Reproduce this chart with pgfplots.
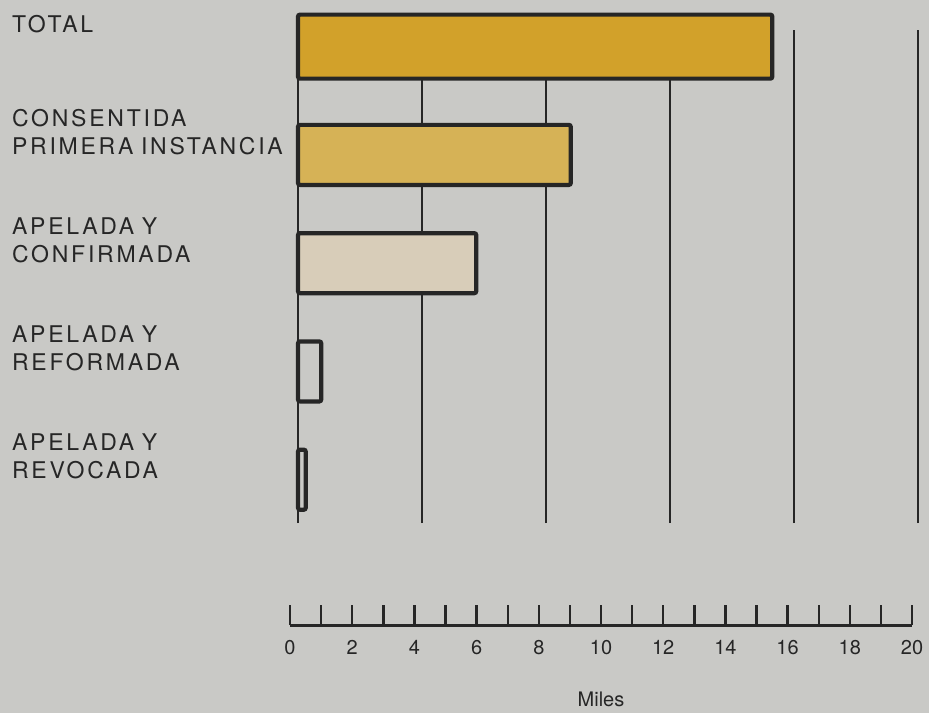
\documentclass[border=0pt]{standalone}
\usepackage{fontspec}
\setmainfont{TeX Gyre Heros}
\newfontfamily\spaced[LetterSpace=12]{TeX Gyre Heros}
\usepackage{pgfplots}
\pgfplotsset{compat=1.18}
\definecolor{paper}{HTML}{C9C9C6}
\definecolor{gold}{HTML}{D2A12A}
\definecolor{ochre}{HTML}{D6B256}
\definecolor{beige}{HTML}{D8CDB9}
\definecolor{ink}{HTML}{262626}

\begin{document}
\begin{tikzpicture}
\useasboundingbox (0,0) rectangle (464.5pt,356.5pt);
\fill[paper] (0,0) rectangle (464.5pt,356.5pt);

% bars
\begin{axis}[
    at={(149pt,95pt)}, anchor=south west,
    scale only axis, width=310pt, height=246.3pt,
    xmin=0, xmax=20, ymin=-0.4, ymax=4.15,
    clip=false,
    axis line style={draw=none},
    tick style={draw=none},
    xtick={4,8,12,16,20}, xticklabels={},
    extra x ticks={0}, extra x tick labels={},
    extra x tick style={grid style={line width=1.5pt, ink}},
    xmajorgrids,
    major grid style={line width=1pt, ink},
    ytick={0,1,2,3,4},
    yticklabels={{APELADA Y\\REVOCADA},{APELADA Y\\REFORMADA},{APELADA Y\\CONFIRMADA},{CONSENTIDA\\PRIMERA INSTANCIA},{TOTAL}},
    yticklabel style={font=\spaced\fontsize{11.5}{14}\selectfont, text width=138.5pt,
        align=left, anchor=east, inner sep=0pt, yshift=11.5pt, color=ink},
    xbar, bar shift=0pt, bar width=30pt,
    every axis plot/.append style={draw=ink, line width=2.1pt, rounded corners=1pt},
]
\addplot[fill=gold, bar width=32pt] coordinates {(15.3,4)};
\addplot[fill=ochre] coordinates {(8.8,3)};
\addplot[fill=beige] coordinates {(5.75,2)};
\addplot[fill=none] coordinates {(0.75,1)};
\addplot[fill=none] coordinates {(0.25,0)};
\end{axis}

% scale
\begin{axis}[
    at={(145pt,44pt)}, anchor=south west,
    scale only axis, width=311pt, height=20pt,
    xmin=0, xmax=20, ymin=0, ymax=1,
    axis x line*=bottom, axis y line=none,
    x axis line style={line width=1.5pt, ink},
    xtick={0,2,...,20}, minor xtick={1,3,...,19},
    tick align=inside,
    major tick length=10pt, minor tick length=10pt,
    tick style={line width=1.2pt, ink},
    /pgf/number format/assume math mode=true,
    xticklabel style={font=\fontsize{10}{12}\selectfont, color=ink, yshift=-4pt},
    xlabel={Miles},
    xlabel style={font=\fontsize{10}{12}\selectfont, color=ink, yshift=-12pt},
]
\end{axis}
\end{tikzpicture}
\end{document}
